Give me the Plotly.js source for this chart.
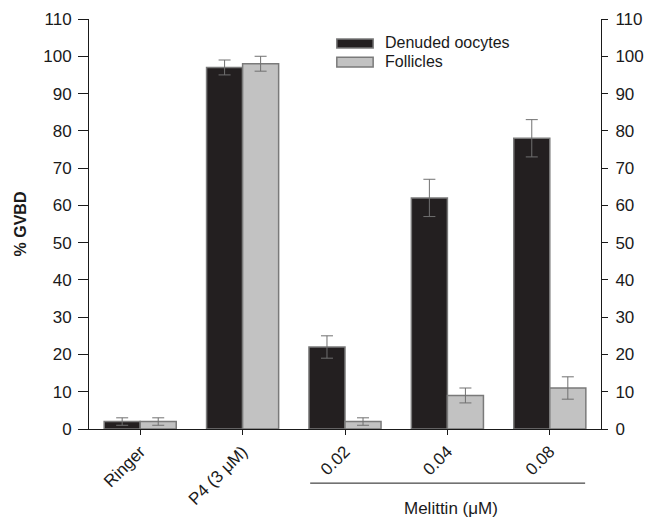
<!DOCTYPE html>
<html>
<head>
<meta charset="utf-8">
<script src="https://cdn.plot.ly/plotly-3.0.1.min.js"></script>
<style>html,body{margin:0;padding:0;background:#fff;}#chart{width:648px;height:517px;}</style>
</head>
<body>
<div id="chart"></div>
<script>
const categories = ["Ringer", "P4 (3 μM)", "0.02", "0.04", "0.08"];
const denudedValues = [2, 97, 22, 62, 78];
const denudedErrors = [1, 2, 3, 5, 5];
const follicleValues = [2, 98, 2, 9, 11];
const follicleErrors = [1, 2, 1, 2, 3];
const seriesNames = ["Denuded oocytes", "Follicles"];
const yTicks = [0, 10, 20, 30, 40, 50, 60, 70, 80, 90, 100, 110];

const FONT = "Liberation Sans, Arial, Helvetica, sans-serif";
const darkFill = "#231f20", lightFill = "#c2c2c2", edge = "#7a7a7a", errCol = "#707070";
const TXT = "#1a1a1a";

const traces = [
  {type: "bar", name: seriesNames[0], x: categories, y: denudedValues,
   marker: {color: darkFill, line: {color: edge, width: 1.5}},
   error_y: {type: "data", array: denudedErrors, visible: true, color: errCol, thickness: 1, width: 6}},
  {type: "bar", name: seriesNames[1], x: categories, y: follicleValues,
   marker: {color: lightFill, line: {color: edge, width: 1.5}},
   error_y: {type: "data", array: follicleErrors, visible: true, color: errCol, thickness: 1, width: 6}},
  {type: "scatter", x: [categories[0]], y: [0], yaxis: "y2", mode: "markers",
   marker: {opacity: 0}, hoverinfo: "skip", showlegend: false}
];

const axisFont = {family: FONT, size: 17, color: TXT};
const layout = {
  width: 648, height: 517,
  margin: {l: 89, r: 47, t: 19, b: 88},
  paper_bgcolor: "#fff", plot_bgcolor: "#fff",
  showlegend: false,
  barmode: "group", bargap: 0.296, bargroupgap: 0,
  font: {family: FONT, size: 16, color: TXT},
  xaxis: {
    type: "category", range: [-0.5, 4.5], automargin: false,
    showline: true, linecolor: TXT, linewidth: 1,
    ticks: "outside", ticklen: 5, tickcolor: TXT,
    tickangle: -45, tickfont: axisFont, showgrid: false, zeroline: false
  },
  yaxis: {
    range: [0, 110], tickvals: yTicks, automargin: false,
    showline: true, linecolor: TXT, linewidth: 1,
    ticks: "outside", ticklen: 10, tickcolor: TXT, tickfont: axisFont,
    ticklabelstandoff: 3,
    showgrid: false, zeroline: false,
    title: {text: "<b>% GVBD</b>", font: {family: FONT, size: 16, color: TXT}, standoff: 12}
  },
  yaxis2: {
    overlaying: "y", side: "right", range: [0, 110], tickvals: yTicks, automargin: false,
    showline: true, linecolor: TXT, linewidth: 1,
    ticks: "outside", ticklen: 6, tickcolor: TXT, tickfont: axisFont,
    ticklabelstandoff: 4,
    showgrid: false, zeroline: false
  },
  shapes: [
    {type: "rect", xref: "paper", yref: "paper", x0: 0.484, x1: 0.555, y0: 0.951, y1: 0.929,
     fillcolor: darkFill, line: {color: edge, width: 1.5}},
    {type: "rect", xref: "paper", yref: "paper", x0: 0.484, x1: 0.555, y0: 0.907, y1: 0.883,
     fillcolor: lightFill, line: {color: edge, width: 1.5}},
    {type: "line", xref: "paper", yref: "paper", x0: 0.432, x1: 0.969, y0: -0.132, y1: -0.132,
     line: {color: TXT, width: 1}}
  ],
  annotations: [
    {xref: "paper", yref: "paper", x: 0.574, y: 0.942, text: seriesNames[0], showarrow: false,
     xanchor: "left", yanchor: "middle", font: {family: FONT, size: 16, color: TXT}},
    {xref: "paper", yref: "paper", x: 0.574, y: 0.896, text: seriesNames[1], showarrow: false,
     xanchor: "left", yanchor: "middle", font: {family: FONT, size: 16, color: TXT}},
    {xref: "paper", yref: "paper", x: 0.707, y: -0.193, text: "Melittin (μM)", showarrow: false,
     xanchor: "center", yanchor: "middle", font: {family: FONT, size: 17, color: TXT}}
  ]
};

Plotly.newPlot("chart", traces, layout, {displayModeBar: false, staticPlot: true});
</script>
</body>
</html>
